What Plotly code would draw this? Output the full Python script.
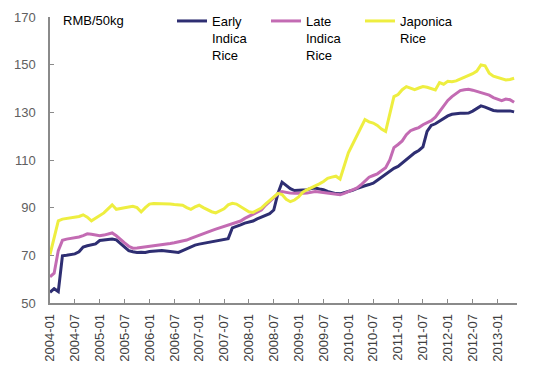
import plotly.graph_objects as go

# Monthly series, 2004-01 .. 2013-05 (RMB/50kg)
years = list(range(2004, 2014))
months = [f"{y}-{m:02d}" for y in years for m in range(1, 13)][:113]

early_indica = [
    54.5, 56.0, 54.8, 69.8, 70.0, 70.2, 70.6, 71.5, 73.5, 74.0, 74.4, 74.8,
    76.2, 76.5, 76.7, 76.8, 76.5, 75.0, 73.5, 72.0, 71.5, 71.2, 71.3, 71.2,
    71.6, 71.8, 71.8, 72.0, 71.8, 71.6, 71.4, 71.2, 72.0, 72.8, 73.6, 74.3,
    74.7, 75.0, 75.3, 75.8, 76.0, 76.3, 76.6, 77.0, 81.5, 82.0, 82.8, 83.5,
    84.0, 84.4, 85.3, 86.0, 86.5, 87.5, 89.0, 96.0, 100.7, 99.5, 98.0, 97.2,
    97.2, 97.2, 97.5, 98.0, 98.2, 97.8, 97.5, 96.8, 96.2, 95.9, 95.8, 96.2,
    96.7, 97.3, 98.0, 98.7, 99.2, 99.7, 100.3, 101.5, 102.7, 104.0, 105.3, 106.5,
    107.3, 108.7, 110.5, 111.8, 113.0, 114.0, 115.5, 122.0, 124.5, 125.2, 126.3, 127.3,
    128.5, 129.2, 129.5, 129.6, 129.6, 129.7, 130.5, 131.5, 132.7, 132.2, 131.5, 130.8,
    130.6, 130.6, 130.8, 130.6, 130.2,
]

late_indica = [
    61.0, 62.5, 72.0, 76.3, 76.8, 77.0, 77.2, 77.7, 78.3, 79.0, 78.8, 78.5,
    78.2, 78.5, 79.0, 79.4, 78.2, 76.5, 75.2, 73.8, 73.0, 73.1, 73.3, 73.5,
    74.0, 74.1, 74.3, 74.4, 74.7, 75.0, 75.3, 75.6, 75.8, 76.4, 77.1, 77.8,
    78.5, 79.3, 79.8, 80.4, 81.0, 81.6, 82.2, 82.8, 83.4, 83.9, 84.4, 85.5,
    86.3, 87.1, 88.0, 89.0, 91.0, 92.7, 94.2, 95.8, 96.8, 96.4, 96.1, 96.0,
    95.9, 96.0, 96.1, 96.4, 96.8, 96.6, 96.3, 96.0, 95.8, 95.6, 95.4, 96.0,
    96.8, 97.5, 98.2, 99.5, 101.2, 102.8, 103.5, 104.2, 105.5, 106.8, 110.0, 115.2,
    116.5, 118.0, 120.6, 122.3, 123.0, 123.6, 124.8, 125.7, 126.5, 128.0, 130.5, 132.8,
    135.0, 136.6, 138.0, 139.1, 139.5, 139.7, 139.3, 138.8, 138.0, 137.5, 137.2, 136.2,
    135.5, 134.9, 135.6, 135.3, 134.2,
]

japonica = [
    70.3, 78.0, 84.5, 85.2, 85.5, 85.6, 85.8, 86.3, 87.0, 86.0, 84.5, 85.5,
    86.8, 87.8, 89.5, 91.2, 89.3, 89.8, 90.0, 90.3, 90.6, 90.0, 88.2, 90.0,
    91.5, 91.7, 91.7, 91.6, 91.5, 91.5, 91.3, 91.2, 91.0, 90.0, 89.3, 90.3,
    91.0, 90.0, 89.0, 88.3, 87.8, 88.5, 89.5, 91.2, 91.8, 91.5, 90.5, 89.5,
    88.3, 88.0, 88.8, 89.8, 91.5, 93.0, 94.2, 96.0, 95.5, 93.5, 92.5, 93.2,
    94.5, 96.5, 97.5, 98.3, 99.0, 100.0, 101.0, 102.3, 102.8, 103.2, 102.0, 108.0,
    113.0, 116.5, 120.0, 124.0, 127.0, 126.0, 125.5, 124.5, 123.0, 122.0, 130.0, 136.6,
    137.5, 139.5, 140.8, 140.2, 139.5, 140.2, 140.8, 140.5, 140.0, 139.4, 142.5, 141.8,
    143.0, 142.8, 143.2, 143.9, 144.6, 145.4, 146.2, 147.3, 149.9, 149.5, 146.4, 145.2,
    144.7, 144.2, 143.6, 143.8, 144.3,
]

tick_labels = [
    "2004-01", "2004-07", "2005-01", "2005-07", "2006-01", "2006-07", "2007-01",
    "2007-07", "2008-01", "2008-07", "2009-01", "2009-07", "2010-01", "2010-07",
    "2011-01", "2011-07", "2012-01", "2012-07", "2013-01",
]
y_ticks = [50, 70, 90, 110, 130, 150, 170]

series = [
    ("Early<br>Indica<br>Rice", early_indica, "#2E2E72"),
    ("Late<br>Indica<br>Rice", late_indica, "#C36BB3"),
    ("Japonica<br>Rice", japonica, "#EEEE40"),
]

FONT = "Liberation Sans, Arial, sans-serif"

fig = go.Figure()
for name, vals, color in series:
    fig.add_trace(go.Scatter(
        x=months, y=vals, mode="lines", name=name,
        line=dict(color=color, width=3),
    ))

fig.update_layout(
    width=554, height=371,
    margin=dict(l=42, r=45, t=9, b=76, autoexpand=False),
    paper_bgcolor="white", plot_bgcolor="white",
    font=dict(family=FONT, size=13, color="black"),
    showlegend=True,
    legend=dict(
        orientation="h", xref="paper", yref="paper",
        x=(164 - 42) / 467, y=1 + 11 / 286, xanchor="left", yanchor="top",
        valign="top", entrywidth=49, entrywidthmode="pixels",
        font=dict(family=FONT, size=13, color="black"),
        bgcolor="rgba(0,0,0,0)", tracegroupgap=0,
    ),
    annotations=[dict(
        text="RMB/50kg", xref="paper", yref="paper",
        x=(61 - 50) / 467, y=1 - (21 - 17) / 286,
        xanchor="left", yanchor="middle", showarrow=False,
        font=dict(family=FONT, size=13, color="black"),
    )],
)

fig.update_xaxes(
    type="category", categoryorder="array", categoryarray=months,
    range=[0, 112.7],
    tickmode="array", tickvals=tick_labels, ticktext=tick_labels,
    tickangle=-90, ticks="inside", ticklen=4, tickcolor="#8A8A8A",
    showline=True, linecolor="#8A8A8A", linewidth=1.5,
    showgrid=False, zeroline=False,
    tickfont=dict(family=FONT, size=13, color="#404040"),
    ticklabelstandoff=4,
)
fig.update_yaxes(
    range=[50, 170], tickmode="array", tickvals=y_ticks,
    ticks="inside", ticklen=4, tickcolor="#8A8A8A",
    showline=True, linecolor="#8A8A8A", linewidth=1.5,
    showgrid=False, zeroline=False,
    tickfont=dict(family=FONT, size=13, color="#606060"),
    ticklabelstandoff=10,
)

fig.write_html("out.html")
